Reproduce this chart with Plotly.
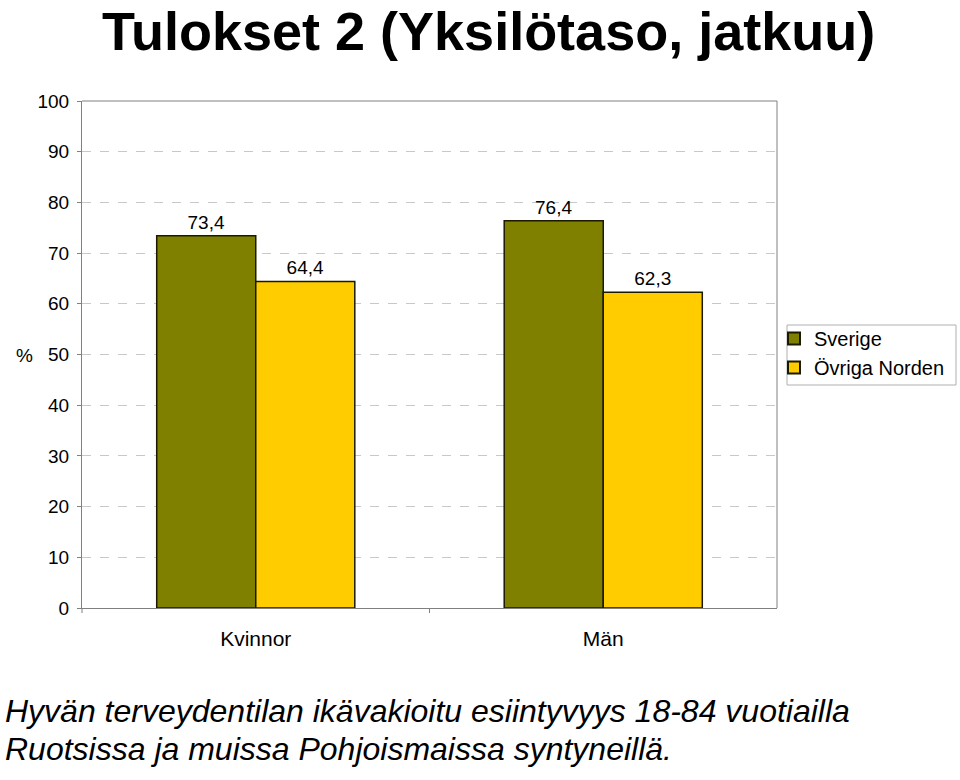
import plotly.graph_objects as go

categories = ["Kvinnor", "Män"]
sverige = [73.4, 76.4]
ovriga = [64.4, 62.3]
series_names = ["Sverige", "Övriga Norden"]
y_ticks = [0, 10, 20, 30, 40, 50, 60, 70, 80, 90, 100]

def fmt(vals):
    return [f"{v:.1f}".replace(".", ",") for v in vals]

FONT = "Liberation Sans, Arial, sans-serif"

L, R, T, B = 82, 777, 101, 608
PW, PH = R - L, B - T

def px(x):
    return (x - L) / PW

def py(y):
    return (B - y) / PH

fig = go.Figure()
fig.add_trace(go.Bar(
    x=categories, y=sverige, name=series_names[0],
    marker=dict(color="#808000", line=dict(color="#1a1a00", width=1.5)),
    text=fmt(sverige), textposition="outside", cliponaxis=False,
    textfont=dict(size=19, color="#000", family=FONT),
))
fig.add_trace(go.Bar(
    x=categories, y=ovriga, name=series_names[1],
    marker=dict(color="#FFCC00", line=dict(color="#1a1a00", width=1.5)),
    text=fmt(ovriga), textposition="outside", cliponaxis=False,
    textfont=dict(size=19, color="#000", family=FONT),
))

fig.update_layout(
    width=960, height=780,
    margin=dict(l=L, r=960 - R, t=T, b=780 - B, autoexpand=False),
    paper_bgcolor="white", plot_bgcolor="white",
    barmode="group", bargap=0.43, bargroupgap=0,
    font=dict(family=FONT, color="#000"),
    showlegend=True,
    legend=dict(
        x=px(774), y=py(319), xanchor="left", yanchor="top",
        bgcolor="rgba(0,0,0,0)", borderwidth=0,
        font=dict(size=20, family=FONT, color="#000"),
        tracegroupgap=0, itemsizing="constant", itemwidth=30,
    ),
    xaxis=dict(
        showline=True, linecolor="#808080", linewidth=1,
        ticks="", tickfont=dict(size=21, family=FONT),
        ticklabelstandoff=12,
        showgrid=False, mirror=False,
    ),
    yaxis=dict(
        range=[0, 100], tickvals=y_ticks,
        showline=True, linecolor="#808080", linewidth=1,
        ticks="outside", ticklen=4, tickcolor="#808080",
        ticklabelstandoff=4,
        tickfont=dict(size=19, family=FONT),
        showgrid=True, gridcolor="#c8c8c8", griddash="dash", gridwidth=1,
        zeroline=False,
    ),
    annotations=[
        dict(text="<b>Tulokset 2 (Yksilötaso, jatkuu)</b>", xref="paper", yref="paper",
             x=px(488), y=py(31), xanchor="center", yanchor="middle",
             showarrow=False, font=dict(size=54, family=FONT, color="#000")),
        dict(text="%", xref="paper", yref="paper",
             x=px(25), y=py(355), xanchor="center", yanchor="middle",
             showarrow=False, font=dict(size=19, family=FONT, color="#000")),
        dict(text="<i>Hyvän terveydentilan ikävakioitu esiintyvyys 18-84 vuotiailla</i>",
             xref="paper", yref="paper", x=px(3), y=py(711),
             xanchor="left", yanchor="middle", align="left",
             showarrow=False, font=dict(size=32, family=FONT, color="#000")),
        dict(text="<i>Ruotsissa ja muissa Pohjoismaissa syntyneillä.</i>",
             xref="paper", yref="paper", x=px(3), y=py(749),
             xanchor="left", yanchor="middle", align="left",
             showarrow=False, font=dict(size=32, family=FONT, color="#000")),
    ],
    shapes=[
        dict(type="line", xref="paper", yref="paper", x0=0, x1=1, y0=1, y1=1,
             line=dict(color="#808080", width=1)),
        dict(type="line", xref="paper", yref="paper", x0=1, x1=1, y0=0, y1=1,
             line=dict(color="#808080", width=1)),
        dict(type="line", xref="paper", yref="paper", x0=0.5, x1=0.5, y0=0, y1=-0.01,
             line=dict(color="#808080", width=1)),
        dict(type="line", xref="paper", yref="paper", x0=0, x1=0, y0=0, y1=-0.01,
             line=dict(color="#808080", width=1)),
        dict(type="rect", xref="paper", yref="paper",
             x0=px(787), x1=px(956), y0=py(385), y1=py(325),
             line=dict(color="#b0b0b0", width=1), fillcolor="rgba(0,0,0,0)"),
    ],
)

fig.write_html("out.html")
